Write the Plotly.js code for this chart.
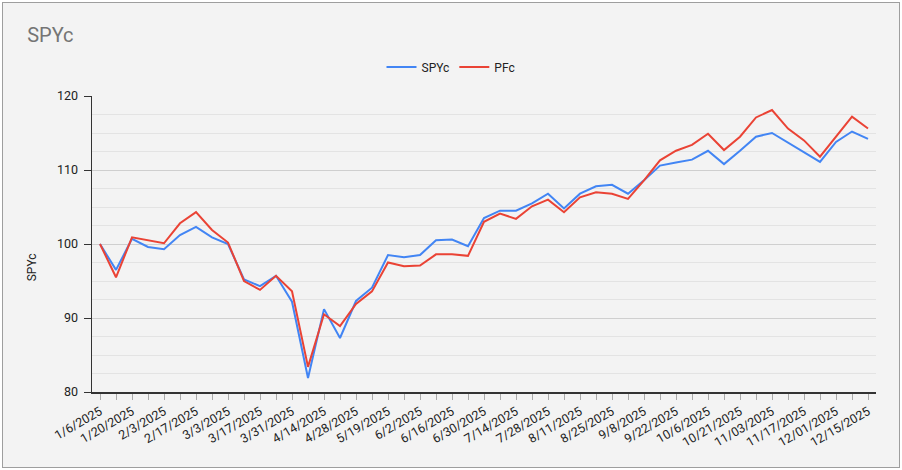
<!DOCTYPE html>
<html>
<head>
<meta charset="utf-8">
<script src="https://cdn.plot.ly/plotly-3.0.1.min.js"></script>
<style>
  body { margin: 0; background: #fff; }
  #wrap { padding: 2px; width: 898px; height: 466px; }
  #chart { width: 896px; height: 464px; border: 1px solid #9e9e9e; }
</style>
</head>
<body>
<div id="wrap"><div id="chart"></div></div>
<script>
var weeks = ['1/6/2025','1/13/2025','1/20/2025','1/27/2025','2/3/2025','2/10/2025','2/17/2025','2/24/2025',
  '3/3/2025','3/10/2025','3/17/2025','3/24/2025','3/31/2025','4/7/2025','4/14/2025','4/21/2025',
  '4/28/2025','5/12/2025','5/19/2025','5/26/2025','6/2/2025','6/9/2025','6/16/2025','6/23/2025',
  '6/30/2025','7/7/2025','7/14/2025','7/21/2025','7/28/2025','8/4/2025','8/11/2025','8/18/2025',
  '8/25/2025','9/2/2025','9/8/2025','9/15/2025','9/22/2025','9/29/2025','10/6/2025','10/14/2025',
  '10/21/2025','10/27/2025','11/03/2025','11/10/2025','11/17/2025','11/24/2025','12/01/2025','12/08/2025',
  '12/15/2025'];

var spyc = [100, 96.5, 100.7, 99.6, 99.3, 101.2, 102.3, 100.9, 100.0, 95.2, 94.3, 95.7, 92.2, 81.9,
  91.2, 87.3, 92.3, 94.1, 98.5, 98.2, 98.5, 100.5, 100.6, 99.7, 103.5, 104.5, 104.5, 105.5, 106.8,
  104.8, 106.8, 107.8, 108.0, 106.8, 108.6, 110.6, 111.0, 111.4, 112.6, 110.8, 112.6, 114.5, 115.0,
  113.7, 112.5, 111.1, 113.8, 115.2, 114.2];

var pfc = [100, 95.5, 100.9, 100.5, 100.1, 102.8, 104.3, 101.9, 100.2, 95.0, 93.8, 95.7, 93.6, 83.4,
  90.5, 88.9, 91.9, 93.6, 97.5, 97.0, 97.1, 98.6, 98.6, 98.4, 103.0, 104.1, 103.4, 105.1, 106.0,
  104.3, 106.3, 107.0, 106.8, 106.1, 108.6, 111.3, 112.6, 113.4, 114.9, 112.7, 114.5, 117.1, 118.1,
  115.6, 114.0, 111.8, 114.5, 117.2, 115.6];

// every other week gets a label, every week gets a tick
var tickLabels = weeks.map(function(w, i){ return i % 2 === 0 ? w : ''; });

var spyTrace = {
  x: weeks, y: spyc, type: 'scatter', mode: 'lines', name: 'SPYc',
  line: { color: '#4285f4', width: 2 }
};
var pfTrace = {
  x: weeks, y: pfc, type: 'scatter', mode: 'lines', name: 'PFc',
  line: { color: '#ea4335', width: 2 }
};

var layout = {
  width: 896, height: 464,
  paper_bgcolor: '#f3f3f3', plot_bgcolor: '#f3f3f3',
  font: { family: 'Roboto, Arial, sans-serif', size: 12, color: '#222' },
  margin: { l: 89, r: 23, t: 93, b: 75 },
  title: {
    text: 'SPYc', xref: 'container', yref: 'container',
    x: 0.027, xanchor: 'left', y: 0.931, yanchor: 'middle',
    font: { size: 20, color: '#757575' }
  },
  showlegend: true,
  legend: {
    orientation: 'h', xref: 'container', yref: 'container',
    x: 0.5, xanchor: 'center', y: 0.862, yanchor: 'middle',
    font: { size: 12, color: '#222' }, bgcolor: 'rgba(0,0,0,0)'
  },
  xaxis: {
    type: 'category', range: [-0.5, weeks.length - 0.5],
    tickmode: 'array', tickvals: weeks, ticktext: tickLabels,
    tickangle: -30, ticks: 'outside', ticklen: 6, tickcolor: '#aaaaaa',
    showgrid: false, showline: true, linecolor: '#333', linewidth: 1.5,
    tickfont: { size: 12.5, color: '#222' }
  },
  yaxis: {
    range: [80, 120], dtick: 10, tick0: 80,
    ticks: 'outside', ticklen: 7, tickcolor: '#333', ticklabelstandoff: 3,
    showline: true, linecolor: '#333', linewidth: 1.5,
    gridcolor: '#cfcfcf', zeroline: false,
    minor: { dtick: 2.5, showgrid: true, gridcolor: '#e3e3e3', ticks: '' },
    tickfont: { size: 12.5, color: '#222' }
  },
  annotations: [{
    text: 'SPYc', textangle: -90, xref: 'paper', yref: 'paper',
    x: -0.077, xanchor: 'center', y: 0.42, yanchor: 'middle',
    showarrow: false, font: { size: 12, color: '#222' }
  }]
};

Plotly.newPlot('chart', [spyTrace, pfTrace], layout, { displayModeBar: false, staticPlot: true });
</script>
</body>
</html>
